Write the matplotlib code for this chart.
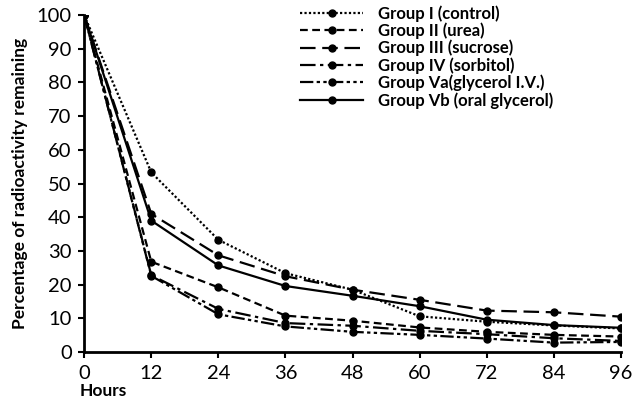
import matplotlib.pyplot as plt

hours = [0, 12, 24, 36, 48, 60, 72, 84, 96]

group_i = [100, 53.3, 33.3, 23.4, 18.5, 10.6, 9.0, 7.9, 7.0]
group_ii = [100, 26.8, 19.2, 10.8, 9.3, 7.3, 6.0, 5.1, 4.6]
group_iii = [100, 41.0, 28.7, 22.5, 18.5, 15.5, 12.3, 11.8, 10.5]
group_iv = [100, 22.8, 12.8, 8.6, 7.8, 6.3, 5.3, 4.1, 3.3]
group_va = [100, 22.6, 11.2, 7.6, 6.0, 5.1, 4.0, 2.8, 3.0]
group_vb = [100, 39.0, 25.7, 19.6, 16.7, 13.6, 9.6, 8.0, 7.2]

labels = ['Group I (control)', 'Group II (urea)', 'Group III (sucrose)',
          'Group IV (sorbitol)', 'Group Va(glycerol I.V.)',
          'Group Vb (oral glycerol)']

plt.rcParams['font.family'] = ['Lato', 'DejaVu Sans']

fig = plt.figure(figsize=(6.33, 4.07), dpi=100)
ax = fig.add_axes([0.133, 0.135, 0.848, 0.828])

styles = [
    (0, (1, 1)),
    (0, (3.5, 2)),
    (0, (7, 3)),
    (0, (7, 2, 1.5, 2)),
    (0, (6, 1.5, 1.5, 1.5, 1.5, 1.5)),
    '-',
]
series = [group_i, group_ii, group_iii, group_iv, group_va, group_vb]

for vals, ls, lab in zip(series, styles, labels):
    ax.plot(hours, vals, color='black', linestyle=ls, linewidth=1.6,
            marker='o', markersize=5, label=lab)

ax.set_xlim(0, 96)
ax.set_ylim(0, 100)
ax.set_xticks(hours)
ax.set_yticks(range(0, 101, 10))
ax.tick_params(labelsize=14.5, width=1.5, length=4, pad=5)
for side in ['top', 'right']:
    ax.spines[side].set_visible(False)
for side in ['left', 'bottom']:
    ax.spines[side].set_linewidth(2)

ax.set_ylabel('Percentage of radioactivity remaining', fontsize=12.5,
              fontweight='bold', labelpad=6)
fig.text(0.126, 0.02, 'Hours', fontsize=12.5, fontweight='bold',
         ha='left', va='bottom')

leg = ax.legend(loc='upper left', bbox_to_anchor=(300 / 633, 1 - 5 / 407),
                bbox_transform=fig.transFigure, frameon=False,
                prop={'size': 12, 'weight': 'bold'}, handlelength=3.8,
                handletextpad=0.9, labelspacing=0.05, borderpad=0,
                borderaxespad=0)

fig.savefig('out.png', dpi=100)
